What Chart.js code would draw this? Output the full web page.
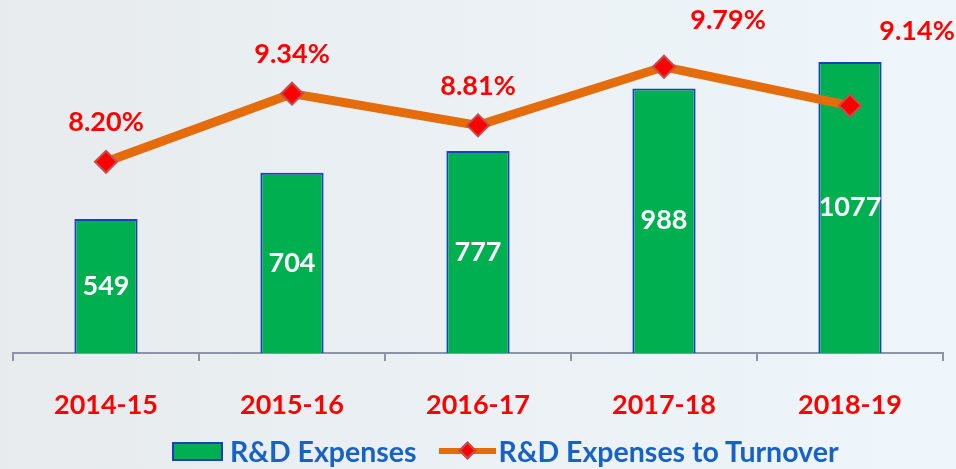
<!DOCTYPE html>
<html>
<head>
<meta charset="utf-8">
<script src="https://cdn.jsdelivr.net/npm/chart.js@4/dist/chart.umd.min.js"></script>
<style>
  html, body { margin: 0; padding: 0; }
  body {
    width: 956px; height: 469px; overflow: hidden; position: relative;
    background: linear-gradient(90deg, #e7ebee 0%, #ebf1f5 55%, #eef6fb 100%);
    font-family: Lato, "Open Sans", sans-serif;
  }
  #wrap { position: absolute; left: 0; top: 0; width: 956px; height: 469px; }
  #legend {
    position: absolute; left: 172px; top: 434px; height: 34px;
    display: flex; align-items: center;
    color: #1862c6; font-weight: bold; font-size: 28.5px;
  }
  .box { width: 47px; height: 15px; background: #00b050; border: 2px solid #1a3fc4; margin-right: 7px; }
  .ln { position: relative; width: 57px; height: 6px; background: #e46c0a; margin: 0 3px 0 22px; }
  .ln::after {
    content: ""; position: absolute; left: 22px; top: -4px; width: 13px; height: 13px;
    background: #ff0000; border: 2px solid #c0504d; transform: rotate(45deg); box-sizing: border-box;
  }
</style>
</head>
<body>
<div id="wrap"><canvas id="chart" width="956" height="469"></canvas></div>
<div id="legend">
  <div class="box"></div><span>R&amp;D Expenses</span>
  <div class="ln"></div><span>R&amp;D Expenses to Turnover</span>
</div>
<script>
// ---------------- DATA ----------------
const years = ["2014-15", "2015-16", "2016-17", "2017-18", "2018-19"];
const rdExpenses = [549, 704, 777, 988, 1077];
const rdToTurnover = [8.20, 9.34, 8.81, 9.79, 9.14];

// where the % labels sit relative to their point
const pctOffsets = [[0, -39], [0, -39], [0, -39], [64, -46], [67, -74]];

// ---------------- LABEL PLUGIN ----------------
const valueLabels = {
  id: "valueLabels",
  afterDatasetsDraw(chart) {
    const ctx = chart.ctx;
    const bottom = chart.chartArea.bottom;
    ctx.save();
    ctx.font = "bold 27px Lato";
    ctx.textAlign = "center";
    ctx.textBaseline = "middle";

    // bar values, white in the middle of the visible bar
    chart.getDatasetMeta(1).data.forEach((bar, i) => {
      ctx.fillStyle = "#ffffff";
      ctx.fillText(rdExpenses[i], bar.x, (bar.y + Math.min(bar.base, bottom)) / 2);
    });

    // percentages above the line points
    chart.getDatasetMeta(0).data.forEach((pt, i) => {
      ctx.fillStyle = "#ff0000";
      ctx.fillText(rdToTurnover[i].toFixed(2) + "%", pt.x + pctOffsets[i][0], pt.y + pctOffsets[i][1]);
    });
    ctx.restore();
  }
};

// ---------------- CHART ----------------
const ctx = document.getElementById("chart").getContext("2d");

new Chart(ctx, {
  data: {
    labels: years,
    datasets: [
      {
        type: "line",
        label: "R&D Expenses to Turnover",
        data: rdToTurnover,
        yAxisID: "y2",
        borderColor: "#e46c0a",
        borderWidth: 9,
        pointStyle: "rectRot",
        pointRadius: 11,
        pointBackgroundColor: "#ff0000",
        pointBorderColor: "#c0504d",
        pointBorderWidth: 2,
        tension: 0,
        order: 0
      },
      {
        type: "bar",
        label: "R&D Expenses",
        data: rdExpenses,
        yAxisID: "y",
        backgroundColor: "#00b050",
        borderColor: "#1a3fc4",
        borderWidth: 2,
        barPercentage: 0.34,
        categoryPercentage: 1,
        order: 1
      }
    ]
  },
  options: {
    responsive: false,
    animation: false,
    layout: { padding: { left: 11, right: 11, top: 20, bottom: 36 } },
    plugins: {
      legend: { display: false },
      tooltip: { enabled: false }
    },
    scales: {
      x: {
        offset: true,
        afterFit(scale) { scale.height = 80; },
        grid: {
          offset: true,
          drawOnChartArea: false,
          drawTicks: true,
          tickLength: 8,
          color: "#8c94a6",
          lineWidth: 2
        },
        border: { display: true, color: "#8c94a6", width: 2 },
        ticks: {
          color: "#ff0000",
          padding: 28,
          font: { family: "Lato", weight: "bold", size: 27 }
        }
      },
      y: { display: false, min: 98, max: 1218 },
      y2: { display: false, min: 5, max: 10.573 }
    }
  },
  plugins: [valueLabels]
});
</script>
</body>
</html>
